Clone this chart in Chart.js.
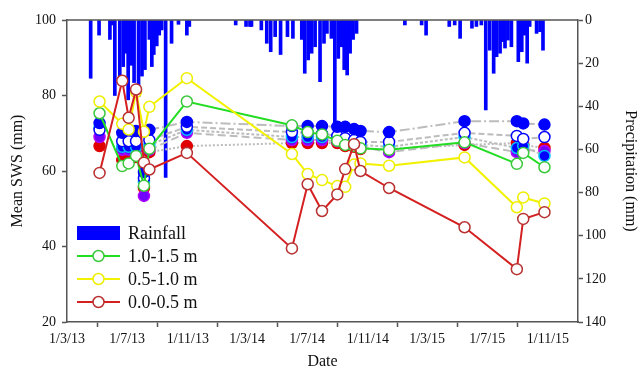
<!DOCTYPE html>
<html>
<head>
<meta charset="utf-8">
<script src="https://cdn.jsdelivr.net/npm/chart.js@4.4.1/dist/chart.umd.min.js"></script>
<style>
html,body{margin:0;padding:0;background:#fff}
#wrap{width:641px;height:371px}
</style>
</head>
<body>
<div id="wrap"><canvas id="c" width="641" height="371"></canvas></div>
<script>
// sampling dates (d/m/yy on the axis)
var sampleDates=["2013-05-06","2013-06-21","2013-07-04","2013-07-19","2013-08-04","2013-08-15","2013-10-30",
 "2014-05-31","2014-07-02","2014-07-31","2014-08-31","2014-09-16","2014-10-04","2014-10-17","2014-12-14",
 "2015-05-16","2015-08-30","2015-09-12","2015-10-25"];

// depth series, mean SWS (mm)
var sws_0_05=[59.5,83.9,74.1,81.6,62.2,60.4,64.8,39.5,56.5,49.4,53.8,60.5,67.1,60.0,55.5,45.1,34.0,47.3,49.1];
var sws_05_10=[78.4,72.5,71.0,80.9,70.4,77.0,84.6,64.5,59.2,57.6,56.0,55.8,61.7,62.0,61.4,63.6,50.4,53.0,51.4];
var sws_10_15=[75.3,61.3,62.0,64.0,56.1,65.9,78.4,72.1,70.3,69.7,68.0,66.9,66.6,66.0,65.6,67.6,61.9,64.8,61.0];
// other depths (not in legend)
var swsD1=[72.7,70.1,70.9,70.6,59.7,70.9,73.0,71.9,71.9,71.9,71.7,71.7,71.1,70.6,70.3,73.2,73.2,72.6,72.3];
var swsD2=[70.9,67.9,67.9,67.9,58.1,68.2,71.7,70.3,70.1,69.8,69.3,68.7,68.2,67.7,67.7,70.1,69.3,68.5,69.0];
var swsD3=[71.4,66.4,66.4,66.4,57.1,66.9,70.9,69.0,69.0,69.0,68.5,67.9,67.4,66.9,66.4,69.0,66.1,66.6,64.0];
var swsD4=[69.0,65.6,65.6,65.6,53.4,65.6,70.1,68.2,68.2,68.2,67.9,67.4,66.9,66.4,65.0,67.4,65.0,65.6,65.3];
var swsD5=[66.6,62.9,63.7,63.7,55.5,65.0,66.6,67.4,67.4,67.4,67.4,66.6,66.4,65.8,65.8,66.9,67.4,66.9,66.1];

// daily rainfall (mm)
var rainDates=["2013-04-18","2013-05-05","2013-05-27","2013-06-02","2013-06-06","2013-06-16","2013-06-23","2013-06-28",
 "2013-07-03","2013-07-10","2013-07-15","2013-07-24","2013-07-31","2013-08-06","2013-08-15","2013-08-20","2013-08-24",
 "2013-08-30","2013-09-04","2013-09-09","2013-09-17","2013-09-29","2013-10-13","2013-10-30","2013-11-04",
 "2014-02-06","2014-02-27","2014-03-07","2014-03-10","2014-03-30","2014-04-10","2014-04-18","2014-04-27","2014-05-08",
 "2014-05-22","2014-06-02","2014-06-20","2014-06-26","2014-07-03","2014-07-10","2014-07-17","2014-07-27","2014-08-04",
 "2014-08-10","2014-08-19","2014-08-26","2014-09-02","2014-09-09","2014-09-14","2014-09-20","2014-09-26","2014-10-02",
 "2014-10-09","2015-01-15","2015-02-18","2015-02-27","2015-04-15","2015-04-26","2015-05-07","2015-05-31","2015-06-09",
 "2015-06-19","2015-06-28","2015-07-06","2015-07-14","2015-07-20","2015-07-27","2015-08-01","2015-08-06","2015-08-12",
 "2015-08-19","2015-09-02","2015-09-09","2015-09-15","2015-09-20","2015-09-25","2015-10-09","2015-10-16","2015-10-22"];
var rainMm=[27,7,9,2.3,35,30,21.6,15.4,
 37,21,29,35.5,26,23,9,21.6,16,
 12,7,4.6,73,10.8,2,7,3,
 2.3,3,3,3,4.6,10.8,14.7,7.7,16,
 7.7,8.5,9,24.7,18.5,15.4,12.4,28.6,10.8,
 6.2,8.5,47.9,17.8,12.4,23,25.5,15.4,9,
 6.2,2.3,2.3,7,3,2.3,8.5,3.8,3,
 2.3,41.7,14,24.7,17,15.4,10,13,9.3,
 12.4,19.3,14.7,7,20,3,6.2,5.4,14];

var tickDates=["2013-03-01","2013-07-01","2013-11-01","2014-03-01","2014-07-01","2014-11-01","2015-03-01","2015-07-01","2015-11-01"];
var tickLabels=["1/3/13","1/7/13","1/11/13","1/3/14","1/7/14","1/11/14","1/3/15","1/7/15","1/11/15"];
var xEnd="2016-01-01";

var T0=Date.UTC(2013,2,1);
function day(s){var p=s.split("-");return (Date.UTC(+p[0],+p[1]-1,+p[2])-T0)/864e5;}
function pts(arr){return arr.map(function(v,i){return {x:day(sampleDates[i]),y:v};});}

var SERIF='"Liberation Serif","Times New Roman",serif';
var AX="#555";
var GRAY="#bcbcbc";
Chart.defaults.font.family=SERIF;
Chart.defaults.color="#111";

function grayLine(ctx){return ctx.p0DataIndex<5?"rgba(0,0,0,0)":GRAY;}
function other(arr,bg,bd,dash,ord){
	return {type:"line",data:pts(arr),yAxisID:"y",borderColor:GRAY,borderWidth:2,borderDash:dash,
		pointRadius:5.5,pointBorderWidth:1.5,pointBackgroundColor:bg,pointBorderColor:bd,order:ord,
		segment:{borderColor:grayLine}};
}
function depth(arr,line,mk,ord,name){
	return {type:"line",label:name,data:pts(arr),yAxisID:"y",borderColor:line,borderWidth:2,
		pointRadius:5.5,pointBorderWidth:1.5,pointBackgroundColor:"#fff",pointBorderColor:mk,order:ord};
}

var legendItems=[
	{t:"Rainfall",bar:true,c:"#0000ff"},
	{t:"1.0-1.5 m",c:"#22dd22",m:"#3cc83c"},
	{t:"0.5-1.0 m",c:"#f2f200",m:"#eeee00"},
	{t:"0.0-0.5 m",c:"#d42020",m:"#b83030"}
];

var frame={
	id:"frame",
	afterDraw:function(ch){
		var c=ch.ctx,a=ch.chartArea;
		c.save();
		c.strokeStyle=AX;c.lineWidth=1.5;
		c.beginPath();c.moveTo(a.left,a.top);c.lineTo(a.right,a.top);c.stroke();
		// legend box inside the plot
		var x0=a.left+10,x1=a.left+53,ys=[233,256,279,302];
		c.font="18px "+SERIF;c.textBaseline="middle";c.fillStyle="#111";
		for(var i=0;i<legendItems.length;i++){
			var it=legendItems[i],y=ys[i];
			if(it.bar){c.fillStyle=it.c;c.fillRect(x0,y-7,x1-x0,14);}
			else{
				c.strokeStyle=it.c;c.lineWidth=2;
				c.beginPath();c.moveTo(x0,y);c.lineTo(x1,y);c.stroke();
				c.beginPath();c.arc((x0+x1)/2,y,5.5,0,Math.PI*2);c.fillStyle="#fff";c.fill();
				c.strokeStyle=it.m;c.lineWidth=1.5;c.stroke();
			}
			c.fillStyle="#111";c.fillText(it.t,x1+8,y+1);
		}
		c.restore();
	}
};

new Chart(document.getElementById("c"),{
	type:"line",
	data:{datasets:[
		depth(sws_0_05,"#d42020","#b83030",1,"0.0-0.5 m"),
		depth(sws_05_10,"#f2f200","#eeee00",2,"0.5-1.0 m"),
		depth(sws_10_15,"#22dd22","#3cc83c",3,"1.0-1.5 m"),
		other(swsD1,"#0000ff","#0000ff",[10,3,2,3],4),
		other(swsD2,"#ffffff","#0000ff",[6,3],5),
		other(swsD3,"#0000ff","#00c0ff",[3,2],6),
		other(swsD4,"#7000ff","#b000ff",[8,4],7),
		other(swsD5,"#e00000","#e00000",[2,2],8),
		{type:"bar",label:"Rainfall",yAxisID:"y2",order:20,backgroundColor:"#0000ff",barThickness:3,
			data:rainDates.map(function(d,i){return {x:day(d),y:rainMm[i]};})}
	]},
	options:{
		responsive:false,animation:false,
		layout:{padding:{top:20,left:0,right:0,bottom:0}},
		plugins:{legend:{display:false},tooltip:{enabled:false}},
		scales:{
			x:{type:"linear",min:0,max:day(xEnd),offset:false,
				afterBuildTicks:function(s){s.ticks=tickDates.map(function(d){return {value:day(d)};});},
				afterFit:function(s){s.height=49;},
				ticks:{autoSkip:false,maxRotation:0,padding:4,font:{size:14},
					callback:function(v,i){return tickLabels[i];}},
				grid:{drawOnChartArea:false,tickLength:5,tickColor:AX,tickWidth:1.5},
				border:{color:AX,width:1.5},
				title:{display:true,text:"Date",font:{size:16},padding:{top:0,bottom:0}}},
			y:{position:"left",min:20,max:100,
				afterFit:function(s){s.width=67;},
				ticks:{stepSize:20,padding:6,font:{size:14}},
				grid:{drawOnChartArea:false,tickLength:5,tickColor:AX,tickWidth:1.5},
				border:{color:AX,width:1.5},
				title:{display:true,text:"Mean SWS (mm)",font:{size:16},padding:{top:8,bottom:0}}},
			y2:{position:"right",min:0,max:140,reverse:true,
				afterFit:function(s){s.width=63;},
				ticks:{stepSize:20,padding:2,font:{size:14}},
				grid:{drawOnChartArea:false,tickLength:5,tickColor:AX,tickWidth:1.5},
				border:{color:AX,width:1.5},
				title:{display:true,text:"Precipitation (mm)",font:{size:16},padding:{top:1,bottom:0}}}
		}
	},
	plugins:[frame]
});
</script>
</body>
</html>
